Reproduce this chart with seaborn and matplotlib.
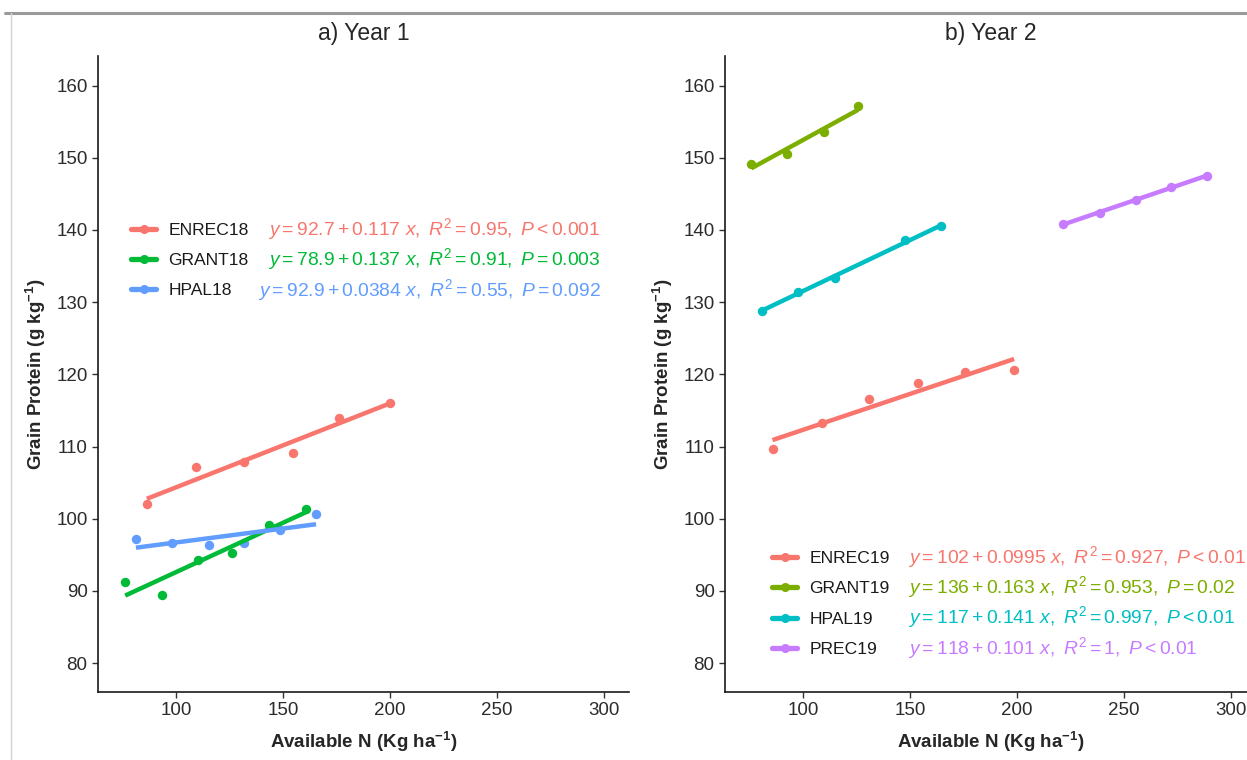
import pandas as pd
import seaborn as sns
import matplotlib
matplotlib.use("Agg")
import matplotlib.pyplot as plt
from matplotlib.lines import Line2D

# Year 1 sites: available N (kg/ha) and grain protein (g/kg)
enrec18_n = [86.4, 109.6, 131.6, 154.5, 176.3, 199.8]
enrec18_p = [102.0, 107.2, 107.8, 109.1, 113.9, 116.1]
grant18_n = [76.3, 93.5, 110.5, 126.4, 143.3, 160.6]
grant18_p = [91.2, 89.5, 94.3, 95.3, 99.1, 101.3]
hpal18_n = [81.3, 98.4, 115.5, 131.6, 148.5, 165.5]
hpal18_p = [97.2, 96.6, 96.3, 96.6, 98.4, 100.6]

# Year 2 sites
enrec19_n = [85.8, 108.7, 130.8, 153.9, 175.8, 198.7]
enrec19_p = [109.6, 113.2, 116.6, 118.8, 120.3, 120.6]
grant19_n = [75.9, 92.7, 109.7, 125.8]
grant19_p = [149.2, 150.5, 153.6, 157.2]
hpal19_n = [80.7, 97.9, 114.8, 147.7, 164.7]
hpal19_p = [128.8, 131.4, 133.3, 138.6, 140.5]
prec19_n = [221.6, 238.8, 255.8, 271.8, 288.8]
prec19_p = [140.8, 142.4, 144.2, 145.9, 147.5]

sites18 = ["ENREC18", "GRANT18", "HPAL18"]
sites19 = ["ENREC19", "GRANT19", "HPAL19", "PREC19"]
colors18 = ["#F8766D", "#00BA38", "#619CFF"]
colors19 = ["#F8766D", "#7CAE00", "#00BFC4", "#C77CFF"]

eq18 = [
    r"$y = 92.7 + 0.117\ x,\ R^2 = 0.95,\ P < 0.001$",
    r"$y = 78.9 + 0.137\ x,\ R^2 = 0.91,\ P = 0.003$",
    r"$y = 92.9 + 0.0384\ x,\ R^2 = 0.55,\ P = 0.092$",
]
eq19 = [
    r"$y = 102 + 0.0995\ x,\ R^2 = 0.927,\ P < 0.01$",
    r"$y = 136 + 0.163\ x,\ R^2 = 0.953,\ P = 0.02$",
    r"$y = 117 + 0.141\ x,\ R^2 = 0.997,\ P < 0.01$",
    r"$y = 118 + 0.101\ x,\ R^2 = 1,\ P < 0.01$",
]


def make_df(pairs, sites):
    frames = []
    for (n, p), s in zip(pairs, sites):
        frames.append(pd.DataFrame({"N": n, "protein": p, "site": s}))
    return pd.concat(frames, ignore_index=True)


df18 = make_df([(enrec18_n, enrec18_p), (grant18_n, grant18_p), (hpal18_n, hpal18_p)], sites18)
df19 = make_df([(enrec19_n, enrec19_p), (grant19_n, grant19_p), (hpal19_n, hpal19_p),
                (prec19_n, prec19_p)], sites19)

sns.set_style("ticks")
plt.rcParams["font.family"] = ["Liberation Sans", "DejaVu Sans"]
plt.rcParams["mathtext.fontset"] = "custom"
plt.rcParams["mathtext.rm"] = "Liberation Sans"
plt.rcParams["mathtext.it"] = "Liberation Sans:italic"
plt.rcParams["mathtext.bf"] = "Liberation Sans:bold"

fig = plt.figure(figsize=(12.47, 7.6), dpi=100)
ax_a = fig.add_axes([0.0786, 0.0895, 0.4258, 0.8368])
ax_b = fig.add_axes([0.5814, 0.0895, 0.4258, 0.8368])

# page decoration: grey rule at top and faint left border
fig.add_artist(Line2D([0.004, 1], [0.983, 0.983], transform=fig.transFigure, color="#9a9a9a", lw=2.2))
fig.add_artist(Line2D([0.009, 0.009], [0, 0.983], transform=fig.transFigure, color="#d4d4d4", lw=1))


# Scatter + linear fit per site, legend and fit equations
def panel(ax, df, sites, colors, eqs, title, leg_anchor, eq_x, eq_ha, eq_y):
    for s, c in zip(sites, colors):
        sns.regplot(data=df[df["site"] == s], x="N", y="protein", ax=ax, ci=None, truncate=True,
                    color=c, scatter_kws=dict(s=46, linewidths=0, alpha=1),
                    line_kws=dict(lw=3.2, solid_capstyle="butt"))
    ax.set_xlim(63.6, 311.7)
    ax.set_ylim(76.0, 164.1)
    ax.set_xticks([100, 150, 200, 250, 300])
    ax.set_yticks(range(80, 161, 10))
    ax.tick_params(labelsize=13.5, labelcolor="#2b2b2b", length=4, width=1, color="#333333")
    for sp in ["left", "bottom"]:
        ax.spines[sp].set_linewidth(1.2)
        ax.spines[sp].set_color("#1a1a1a")
    sns.despine(ax=ax)
    ax.set_xlabel(r"Available N (Kg ha$^{\mathbf{-1}}$)", fontsize=13.5, fontweight="bold")
    ax.set_ylabel(r"Grain Protein (g kg$^{\mathbf{-1}}$)", fontsize=13.5, fontweight="bold")
    ax.xaxis.set_label_coords(0.5, -0.078)
    ax.xaxis.label.set_va("center")
    ax.yaxis.set_label_coords(-0.116, 0.5)
    ax.yaxis.label.set_va("center")
    ax.set_title(title, fontsize=16.5, y=1.036, va="center", pad=0)

    handles = [Line2D([], [], color=c, lw=3.8, marker="o", ms=5.5) for c in colors]
    leg = ax.legend(handles, sites, loc="upper left", bbox_to_anchor=leg_anchor, frameon=False,
                    fontsize=12.6, handlelength=1.45, handletextpad=0.7, labelspacing=0.86,
                    borderpad=0, borderaxespad=0)
    for t in leg.get_texts():
        t.set_color("#1a1a1a")
    for e, c, y in zip(eqs, colors, eq_y):
        ax.text(eq_x, y, e, color=c, fontsize=13.9, ha=eq_ha, va="center", transform=ax.transAxes)


panel(ax_a, df18, sites18, colors18, eq18, "a) Year 1", (0.062, 0.738), 0.947, "right",
      [0.728, 0.681, 0.632])
panel(ax_b, df19, sites19, colors19, eq19, "b) Year 2", (0.0885, 0.222), 0.345, "left",
      [0.212, 0.165, 0.118, 0.069])

fig.savefig("out.png", dpi=100)
